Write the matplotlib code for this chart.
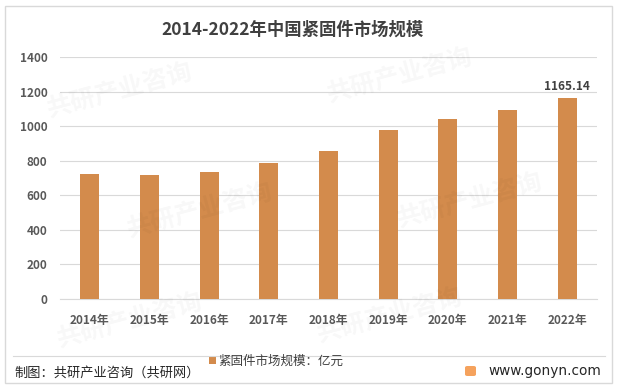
import matplotlib
matplotlib.use("Agg")
import matplotlib.pyplot as plt
from matplotlib.patches import Rectangle, FancyBboxPatch
from matplotlib.lines import Line2D

plt.rcParams['font.family'] = ['Noto Sans CJK SC', 'DejaVu Sans']

years = ['2014年', '2015年', '2016年', '2017年', '2018年', '2019年', '2020年', '2021年', '2022年']
values = [723, 717, 735, 787, 856, 977, 1041, 1093, 1165.14]
yticks = [0, 200, 400, 600, 800, 1000, 1200, 1400]
title = '2014-2022年中国紧固件市场规模'
legend_label = '紧固件市场规模：亿元'
source = '制图：共研产业咨询（共研网）'
site = 'www.gonyn.com'
watermark = '共研产业咨询'

W, H = 617, 389
fig = plt.figure(figsize=(W/100, H/100), dpi=100)
fig.patch.set_facecolor('white')

# faint watermarks
for (wx, wy) in [(120, 90), (400, 75), (200, 210), (470, 200), (130, 320), (390, 315)]:
    fig.text(wx/W, 1-wy/H, watermark, ha='center', va='center', fontsize=18,
             fontweight='bold', color='#000000', alpha=0.03, rotation=15, zorder=0)

# outer border
fig.add_artist(Rectangle((5/W, 6/H), 607/W, 377/H, transform=fig.transFigure,
                         fill=False, edgecolor='#d9d9d9', linewidth=1.0))
# separator line
fig.add_artist(Line2D([13/W, 605/W], [1-356/H, 1-356/H], transform=fig.transFigure,
                      color='#d9d9d9', linewidth=0.8))

ax = fig.add_axes([60/W, 1-299/H, (597-60)/W, (299-57)/H])
ax.patch.set_alpha(0)
bar_color = '#d38b4c'
x = range(len(years))
ax.bar(x, values, width=0.32, color=bar_color, zorder=3)
ax.set_xlim(-0.5, len(years)-0.5)
ax.set_ylim(0, 1400)
ax.set_yticks(yticks)
ax.set_yticklabels([str(t) for t in yticks], fontsize=8.5, color='#595959', fontweight='bold')
ax.set_xticks(list(x))
ax.set_xticklabels(years, fontsize=8.5, color='#595959', fontweight='bold')
ax.grid(axis='y', color='#d9d9d9', linewidth=0.8, zorder=0)
for s in ['top', 'right', 'left']:
    ax.spines[s].set_visible(False)
ax.spines['bottom'].set_color('#d9d9d9')
ax.spines['bottom'].set_linewidth(0.8)
ax.tick_params(length=0)
ax.tick_params(axis='x', pad=11)
ax.tick_params(axis='y', pad=9)

ax.annotate(f'{values[-1]:.2f}', (len(years)-1, values[-1]), xytext=(0, 3),
            textcoords='offset points', ha='center', va='bottom',
            fontsize=8.5, color='#404040', fontweight='bold')

fig.text(293/W, 1-30/H, title, ha='center', va='center', fontsize=12.5,
         fontweight='bold', color='#404040')

fig.text(14/W, 1-373/H, source, ha='left', va='center', fontsize=9.5, color='#262626')
fig.add_artist(Rectangle((209/W, 1-364/H), 7/W, 7/H, transform=fig.transFigure,
                         facecolor=bar_color, edgecolor='none'))
fig.text(218/W, 1-361/H, legend_label, ha='left', va='center', fontsize=9, color='#404040')

# logo
fig.add_artist(FancyBboxPatch((465/W, 1-376/H), 11/W, 10/H, transform=fig.transFigure,
                              boxstyle='round,pad=0,rounding_size=0.004',
                              facecolor='#f5a25d', edgecolor='none'))
fig.text(488/W, 1-371/H, site, ha='left', va='center',
         fontsize=9.8, color='#262626', family=['DejaVu Sans'])

fig.savefig('out.png', dpi=100)
